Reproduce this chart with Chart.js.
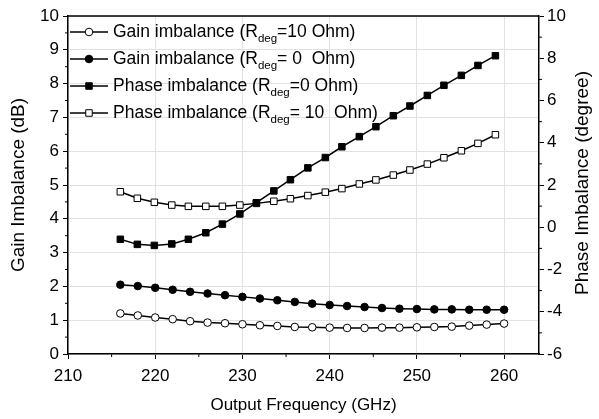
<!DOCTYPE html>
<html><head><meta charset="utf-8">
<script src="https://cdn.jsdelivr.net/npm/chart.js@4.4.1/dist/chart.umd.min.js"></script>
<style>html,body{margin:0;padding:0;background:#fff}#wrap{width:599px;height:419px}</style>
</head><body><div id="wrap"><canvas id="c" width="599" height="419"></canvas></div>
<script>
const gainFreq = [216,218,220,222,224,226,228,230,232,234,236,238,240,242,244,246,248,250,252,254,256,258,260];
const gainR10 = [1.20,1.14,1.08,1.03,0.97,0.93,0.91,0.88,0.85,0.83,0.80,0.79,0.78,0.77,0.77,0.78,0.78,0.79,0.80,0.81,0.84,0.87,0.90];
const gainR0 = [2.05,2.01,1.96,1.90,1.84,1.79,1.74,1.69,1.64,1.59,1.54,1.49,1.45,1.42,1.39,1.36,1.34,1.33,1.32,1.32,1.31,1.31,1.31];
const phaseFreq = [216.0,217.95,219.9,221.9,223.8,225.8,227.7,229.7,231.6,233.6,235.5,237.5,239.5,241.4,243.4,245.3,247.3,249.2,251.2,253.1,255.1,257.0,259.0];
const phaseR0 = [-0.57,-0.81,-0.86,-0.79,-0.57,-0.26,0.15,0.63,1.16,1.72,2.25,2.81,3.30,3.81,4.29,4.76,5.28,5.74,6.24,6.72,7.19,7.66,8.12];
const phaseR10 = [1.68,1.37,1.18,1.05,0.99,0.99,0.99,1.05,1.13,1.23,1.35,1.50,1.66,1.83,2.05,2.24,2.47,2.71,2.99,3.29,3.62,3.97,4.38];
const xTicks = [210,220,230,240,250,260];
const xMinorTicks = [215,225,235,245,255];
const yMinorTicks = [0.5,1.5,2.5,3.5,4.5,5.5,6.5,7.5,8.5,9.5];
const y2MinorTicks = [-5,-3,-1,1,3,5,7,9];
const legendPre = ['Gain imbalance (R','Gain imbalance (R','Phase imbalance (R','Phase imbalance (R'];
const legendSub = ['deg','deg','deg','deg'];
const legendPost = ['=10 Ohm)','= 0  Ohm)','=0 Ohm)','= 10  Ohm)'];
const rightTitle = 'Phase Imbalance (degree)';

const FONT = '"Liberation Sans", Arial, sans-serif';
const pts = (xs, ys) => xs.map((x, i) => ({x: x, y: ys[i]}));

const styles = [
  {pointStyle:'circle', radius:3.8, fill:'#fff', axis:'y', xs:gainFreq, ys:gainR10},
  {pointStyle:'circle', radius:3.8, fill:'#000', axis:'y', xs:gainFreq, ys:gainR0},
  {pointStyle:'rect', radius:4.6, fill:'#000', axis:'y2', xs:phaseFreq, ys:phaseR0},
  {pointStyle:'rect', radius:4.6, fill:'#fff', axis:'y2', xs:phaseFreq, ys:phaseR10}
];

const datasets = styles.map((s, i) => ({
  label: legendPre[i] + legendSub[i] + legendPost[i],
  data: pts(s.xs, s.ys),
  yAxisID: s.axis,
  borderColor: '#000',
  borderWidth: 1.5,
  pointStyle: s.pointStyle,
  pointRadius: s.radius,
  pointBackgroundColor: s.fill,
  pointBorderColor: '#000',
  pointBorderWidth: 1,
  tension: 0,
  fill: false
}));

function drawMarker(ctx, s, x, y) {
  ctx.save();
  ctx.fillStyle = s.fill; ctx.strokeStyle = '#000'; ctx.lineWidth = 1;
  ctx.beginPath();
  if (s.pointStyle === 'circle') {
    ctx.arc(x, y, s.radius, 0, Math.PI * 2);
  } else {
    const h = s.radius * Math.SQRT1_2;
    ctx.rect(x - h, y - h, 2 * h, 2 * h);
  }
  ctx.fill(); ctx.stroke();
  ctx.restore();
}

const decor = {
  id: 'decor',
  afterDraw(chart) {
    const ctx = chart.ctx;
    const a = chart.chartArea;
    const sx = chart.scales.x, sy = chart.scales.y, sy2 = chart.scales.y2;
    ctx.save();
    ctx.strokeStyle = '#000';
    ctx.lineWidth = 1.5;
    ctx.beginPath();
    ctx.moveTo(a.left, a.top); ctx.lineTo(a.right, a.top);
    ctx.stroke();
    ctx.lineWidth = 1;
    ctx.beginPath();
    xMinorTicks.forEach(v => { const p = sx.getPixelForValue(v); ctx.moveTo(p, a.bottom); ctx.lineTo(p, a.bottom + 3); });
    yMinorTicks.forEach(v => { const p = sy.getPixelForValue(v); ctx.moveTo(a.left, p); ctx.lineTo(a.left - 3, p); });
    y2MinorTicks.forEach(v => { const p = sy2.getPixelForValue(v); ctx.moveTo(a.right, p); ctx.lineTo(a.right + 3, p); });
    ctx.stroke();
    // right axis title, reading bottom to top
    ctx.save();
    ctx.translate(583, (a.top + a.bottom) / 2 - 2);
    ctx.rotate(-Math.PI / 2);
    ctx.fillStyle = '#000';
    ctx.font = '19px ' + FONT;
    ctx.textAlign = 'center';
    ctx.textBaseline = 'middle';
    ctx.fillText(rightTitle, 0, 0);
    ctx.restore();
    // legend
    styles.forEach((s, i) => {
      const y = 32 + i * 27;
      ctx.lineWidth = 1.5;
      ctx.strokeStyle = '#000';
      ctx.beginPath(); ctx.moveTo(70, y); ctx.lineTo(108, y); ctx.stroke();
      drawMarker(ctx, s, 89, y);
      ctx.fillStyle = '#000';
      ctx.textBaseline = 'middle';
      ctx.textAlign = 'left';
      ctx.font = '17.5px ' + FONT;
      let x = 113;
      ctx.fillText(legendPre[i], x, y);
      x += ctx.measureText(legendPre[i]).width;
      ctx.font = '11.5px ' + FONT;
      ctx.fillText(legendSub[i], x, y + 7);
      x += ctx.measureText(legendSub[i]).width;
      ctx.font = '17.5px ' + FONT;
      ctx.fillText(legendPost[i], x, y);
    });
    ctx.restore();
  }
};

Chart.defaults.font.family = FONT;
Chart.defaults.color = '#000';

new Chart(document.getElementById('c'), {
  type: 'line',
  data: { datasets: datasets },
  plugins: [decor],
  options: {
    responsive: false,
    devicePixelRatio: 1,
    animation: false,
    layout: { padding: { top: 16, left: 0, right: 0, bottom: 0 } },
    plugins: { legend: { display: false }, tooltip: { enabled: false } },
    scales: {
      x: {
        type: 'linear', min: 210, max: 264,
        afterBuildTicks: s => { s.ticks = xTicks.map(v => ({ value: v })); },
        afterFit: s => { s.height = 65; },
        border: { color: '#000', width: 1.5 },
        grid: { color: '#e2e2e2', lineWidth: 1, tickColor: '#000', tickLength: 5 },
        ticks: { font: { size: 17 }, padding: 7, maxRotation: 0 },
        title: { display: true, text: 'Output Frequency (GHz)', font: { size: 17, lineHeight: 1.2 }, padding: { top: 0, bottom: 3 } }
      },
      y: {
        position: 'left', min: 0, max: 10,
        afterFit: s => { s.width = 68; },
        border: { color: '#000', width: 1.5 },
        grid: { color: '#e2e2e2', lineWidth: 1, tickColor: '#000', tickLength: 5 },
        ticks: { stepSize: 1, font: { size: 17 }, padding: 4 },
        title: { display: true, text: 'Gain Imbalance (dB)', font: { size: 19, lineHeight: 1.2 }, padding: { top: 7, bottom: 0 } }
      },
      y2: {
        position: 'right', min: -6, max: 10,
        afterFit: s => { s.width = 60; },
        border: { color: '#000', width: 1.5 },
        grid: { drawOnChartArea: false, tickColor: '#000', tickLength: 5 },
        ticks: { stepSize: 2, font: { size: 17 }, padding: 3 },
        title: { display: false }
      }
    }
  }
});
</script>
</body></html>
